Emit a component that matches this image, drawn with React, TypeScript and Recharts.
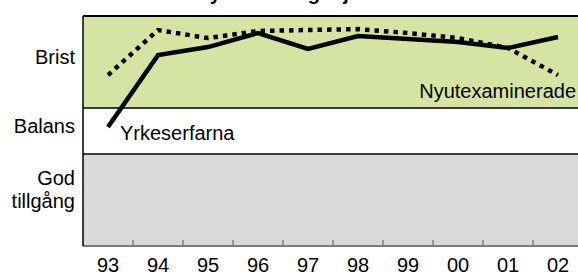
import { ComposedChart, Line, XAxis, YAxis, ReferenceArea, ReferenceLine, LabelList } from "recharts"

// years on the x axis
const years = ["93", "94", "95", "96", "97", "98", "99", "00", "01", "02"]

// 0 = god tillgång (bottom) ... 10 = brist (top)
const yrkeserfarna = [5.17, 8.3, 8.65, 9.26, 8.57, 9.13, 9.0, 8.87, 8.61, 9.09]
const nyutexaminerade = [7.43, 9.39, 9.04, 9.35, 9.39, 9.43, 9.26, 9.04, 8.61, 7.43]

// zones on the y scale
const zoneBounds = [0, 4, 6, 10]
const zoneTicks = [2, 5, 8]
const zoneLabels = [["God", "tillgång"], ["Balans"], ["Brist"]]

const title = "Gymnasieingenjörer"

const data = years.map((label, i) => ({
  i,
  label,
  yrk: yrkeserfarna[i],
  nyu: nyutexaminerade[i],
}))

const FONT = "'Liberation Sans', Arial, Helvetica, sans-serif"
const AXIS_GRAY = "#7a7a7a"

function ZoneTick(props: any) {
  const { x, y, payload } = props
  const lines = zoneLabels[zoneTicks.indexOf(payload.value)] || []
  const first = y + 1.5 - (lines.length - 1) * 16.5
  return (
    <text x={x} textAnchor="end" fontSize={20} fill="#000" fontFamily={FONT}>
      {lines.map((l, k) => (
        <tspan key={k} x={x} y={first + k * 23}>
          {l}
        </tspan>
      ))}
    </text>
  )
}

const seriesLabel = (text: string, index: number, dx: number, dy: number, anchor: string) => (props: any) => {
  if (props.index !== index) return null
  return (
    <text x={props.x + dx} y={props.y + dy} textAnchor={anchor} fontSize={20} fill="#000" fontFamily={FONT}>
      {text}
    </text>
  )
}

export default function App() {
  return (
    <div style={{ position: "absolute", left: 0, top: 0, width: 578, height: 275, overflow: "hidden", background: "#fff", fontFamily: FONT }}>
      {/* title sits mostly above the crop, as in the source picture */}
      <div
        style={{
          position: "absolute",
          left: 0,
          width: 578,
          top: -17,
          textAlign: "center",
          fontSize: 20,
          lineHeight: "20px",
          fontWeight: "bold",
          paddingLeft: 2,
        }}
      >
        {title}
      </div>
      <ComposedChart width={600} height={275} data={data} margin={{ top: 16, right: 17, bottom: 0, left: 0 }}>
        <ReferenceArea y1={zoneBounds[2]} y2={zoneBounds[3]} fill="#d5e4a2" fillOpacity={1} stroke="none" />
        <ReferenceArea y1={zoneBounds[1]} y2={zoneBounds[2]} fill="#ffffff" fillOpacity={1} stroke="none" />
        <ReferenceArea y1={zoneBounds[0]} y2={zoneBounds[1]} fill="#d9d9d9" fillOpacity={1} stroke="none" />
        <ReferenceLine y={zoneBounds[3]} stroke="#000" strokeWidth={2} />
        <ReferenceLine y={zoneBounds[2]} stroke="#000" strokeWidth={1.5} />
        <ReferenceLine y={zoneBounds[1]} stroke="#000" strokeWidth={1.5} />
        {years.slice(1).map((_, i) => (
          <ReferenceLine
            key={i}
            segment={[
              { x: i + 0.5, y: 0 },
              { x: i + 0.5, y: 0.26 },
            ]}
            stroke={AXIS_GRAY}
            strokeWidth={1.5}
          />
        ))}
        <XAxis
          dataKey="i"
          type="number"
          domain={[-0.5, years.length - 0.5]}
          ticks={years.map((_, i) => i)}
          tickFormatter={(v: number) => years[v]}
          interval={0}
          tickLine={false}
          axisLine={{ stroke: AXIS_GRAY, strokeWidth: 2 }}
          tickMargin={6}
          height={29}
          tick={{ fill: "#000", fontSize: 20, fontFamily: FONT }}
        />
        <YAxis
          type="number"
          domain={[0, 10]}
          ticks={zoneTicks}
          interval={0}
          width={83}
          tickLine={false}
          axisLine={{ stroke: "#000", strokeWidth: 1.5 }}
          tick={<ZoneTick />}
        />
        <Line
          type="linear"
          dataKey="nyu"
          stroke="#000"
          strokeWidth={4.5}
          strokeDasharray="4.5 5"
          dot={false}
          activeDot={false}
          isAnimationActive={false}
        >
          <LabelList dataKey="nyu" content={seriesLabel("Nyutexaminerade", 9, 18, 23, "end")} />
        </Line>
        <Line
          type="linear"
          dataKey="yrk"
          stroke="#000"
          strokeWidth={4.5}
          dot={false}
          activeDot={false}
          isAnimationActive={false}
        >
          <LabelList dataKey="yrk" content={seriesLabel("Yrkeserfarna", 0, 12, 13, "start")} />
        </Line>
      </ComposedChart>
    </div>
  )
}
